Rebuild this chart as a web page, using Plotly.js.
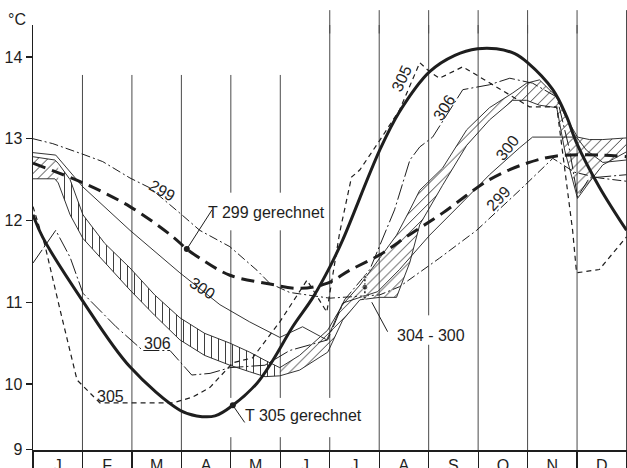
<!DOCTYPE html>
<html>
<head>
<meta charset="utf-8">
<script src="https://cdn.plot.ly/plotly-3.0.1.min.js"></script>
<style>
  html, body { margin: 0; padding: 0; background: #fff; }
  #chart { width: 627px; height: 468px; }
</style>
</head>
<body>
<div id="chart"></div>
<script>
// Monthly course of water temperature (°C) – measured stations and computed curves

const months = ['J', 'F', 'M', 'A', 'M', 'J', 'J', 'A', 'S', 'O', 'N', 'D'];
const monthCenters = [0.5, 1.5, 2.5, 3.5, 4.5, 5.5, 6.5, 7.5, 8.5, 9.5, 10.5, 11.5];
const monthBounds = [0, 1, 2, 3, 4, 5, 6, 7, 8, 9, 10, 11, 12];
const yTickVals = [9.2, 10, 11, 12, 13, 14];
const yTickText = ['9', '10', '11', '12', '13', '14'];

// computed curve T 305
const t305X = [0, 0.20, 0.99, 1.96, 2.97, 3.31, 3.68, 4.04, 4.53, 4.85, 5.25, 5.66, 6.0, 6.26, 7.01, 7.41, 8.02, 8.53, 8.99, 9.37, 9.74, 10.0, 10.51, 10.79, 10.99, 11.45, 12.0];
const t305Y = [12.07, 11.79, 11.03, 10.21, 9.68, 9.61, 9.61, 9.74, 10.01, 10.29, 10.70, 11.06, 11.43, 11.76, 12.86, 13.33, 13.82, 14.02, 14.10, 14.10, 14.04, 13.93, 13.60, 13.27, 12.95, 12.41, 11.88];

// computed curve T 299
const t299X = [0, 1.01, 1.96, 2.83, 3.11, 3.37, 3.98, 4.73, 5.39, 5.94, 6.40, 7.01, 7.62, 8.28, 9.23, 9.98, 10.59, 11.45, 12.0];
const t299Y = [12.70, 12.46, 12.17, 11.80, 11.65, 11.54, 11.33, 11.23, 11.17, 11.23, 11.39, 11.58, 11.83, 12.09, 12.50, 12.70, 12.79, 12.80, 12.78];

// measured station 299
const m299X = [0, 0.40, 1.01, 1.41, 1.96, 2.36, 2.97, 3.37, 3.98, 4.53, 4.79, 5.19, 6.0, 7.01, 7.41, 8.22, 8.97, 9.84, 10.51, 10.95, 11.45, 12.0];
const m299Y = [13.00, 12.94, 12.81, 12.72, 12.52, 12.40, 12.09, 11.88, 11.68, 11.39, 11.23, 11.12, 11.05, 11.09, 11.19, 11.54, 11.88, 12.37, 12.76, 12.59, 12.52, 12.48];

// measured station 300
const m300X = [0, 0.46, 1.01, 1.96, 2.97, 3.78, 4.38, 4.99, 5.45, 5.94, 6.26, 6.97, 7.41, 8.02, 8.63, 9.23, 9.84, 10.10, 10.99, 11.19, 11.52, 12.0];
const m300Y = [12.83, 12.80, 12.41, 11.88, 11.36, 10.97, 10.76, 10.57, 10.70, 10.54, 10.99, 11.13, 11.40, 11.82, 12.19, 12.56, 12.89, 13.02, 13.02, 12.86, 12.71, 12.74];

// measured station 305
const m305X = [0, 0.24, 0.55, 0.89, 1.35, 2.83, 3.23, 3.58, 4.04, 4.44, 4.99, 5.54, 5.94, 6.20, 6.44, 6.61, 7.01, 7.41, 7.82, 8.02, 8.22, 8.69, 10.04, 10.59, 10.91, 10.99, 11.45, 12.0];
const m305Y = [12.17, 11.70, 10.90, 10.05, 9.77, 9.77, 9.84, 9.96, 10.26, 10.32, 10.76, 11.27, 10.88, 11.85, 12.53, 12.62, 12.98, 13.35, 13.93, 13.82, 13.74, 13.88, 13.39, 13.39, 11.88, 11.36, 11.40, 11.80];

// measured station 306
const m306X = [0, 0.46, 0.75, 1.01, 1.68, 2.22, 2.77, 3.21, 3.58, 3.98, 4.69, 5.19, 5.96, 6.30, 6.81, 7.31, 7.62, 7.82, 8.08, 8.69, 9.23, 9.64, 10.10, 10.59, 10.85, 11.01, 11.25, 12.0];
const m306Y = [11.48, 11.88, 11.55, 11.11, 10.70, 10.41, 10.41, 10.11, 10.13, 10.20, 10.23, 10.41, 10.54, 11.03, 11.40, 12.13, 12.74, 12.90, 13.02, 13.60, 13.66, 13.74, 13.68, 13.51, 12.86, 12.29, 12.52, 12.56];

// range of the remaining stations (hatched band)
const bandX = [0, 0.44, 0.51, 0.75, 1.01, 1.45, 1.96, 2.46, 2.97, 3.47, 3.98, 4.38, 4.69, 4.99, 5.39, 5.96, 6.26, 6.61, 7.01, 7.35, 7.62, 7.82, 8.28, 8.77, 9.23, 9.70, 9.98, 10.24, 10.59, 10.75, 11.01, 11.25, 11.52, 11.76, 12.0];
const bandUpper = [12.78, 12.74, 12.70, 12.50, 12.07, 11.72, 11.42, 11.09, 10.81, 10.62, 10.50, 10.39, 10.29, 10.20, 10.35, 10.66, 10.97, 11.21, 11.54, 11.82, 12.13, 12.37, 12.64, 13.11, 13.38, 13.56, 13.68, 13.72, 13.51, 13.29, 13.02, 12.99, 12.99, 13.00, 13.01];
const bandLower = [12.51, 12.51, 12.46, 12.07, 11.78, 11.49, 11.15, 10.84, 10.54, 10.35, 10.23, 10.15, 10.09, 10.10, 10.17, 10.39, 10.78, 11.03, 11.06, 11.06, 11.49, 11.95, 12.43, 12.92, 13.23, 13.47, 13.47, 13.41, 13.38, 12.86, 12.27, 12.47, 12.68, 12.76, 12.84];

// difference 304 - 300 in July
const diff304X = 6.71;
const diff304Lo = 11.06;
const diff304Hi = 11.31;

// marked points on the computed curves
const markT299 = { x: 3.11, y: 11.65 };
const markT305 = { x: 4.04, y: 9.74 };

const INK = '#1e1e1e';
const FONT = 'Liberation Sans, Arial, sans-serif';
const yRange = [9.193, 14.391];

// hatched band pieces: [start index, end index, hatch direction]
const bandPieces = [[0, 2, '/'], [2, 13, '|'], [13, bandX.length - 1, '/']];

const traces = [];

bandPieces.forEach(([a, b, dir]) => {
  const xs = bandX.slice(a, b + 1);
  const up = bandUpper.slice(a, b + 1);
  const lo = bandLower.slice(a, b + 1);
  traces.push({
    x: xs.concat(xs.slice().reverse()),
    y: up.concat(lo.slice().reverse()),
    mode: 'lines', fill: 'toself',
    fillcolor: 'rgba(255,255,255,0)',
    fillpattern: { shape: dir, size: 7, solidity: 0.13, fgcolor: '#2a2a2a', bgcolor: 'rgba(255,255,255,0)' },
    line: { width: 0 },
    hoverinfo: 'skip', showlegend: false
  });
});

function line(x, y, width, dash, shape) {
  return {
    x: x, y: y, mode: 'lines',
    line: { color: INK, width: width, dash: dash || 'solid', shape: shape || 'linear', smoothing: 1 },
    hoverinfo: 'skip', showlegend: false
  };
}

traces.push(line(bandX, bandUpper, 0.9));
traces.push(line(bandX, bandLower, 0.9));
traces.push(line(m306X, m306Y, 1, '16px,3px,2px,3px'));
traces.push(line(m305X, m305Y, 1.2, '5px,4px'));
traces.push(line(m300X, m300Y, 0.9));
traces.push(line(m299X, m299Y, 1, '9px,3px,2px,3px'));
traces.push(line(t299X, t299Y, 3, '13px,7px', 'spline'));
traces.push(line(t305X, t305Y, 3, 'solid', 'spline'));

traces.push({
  x: [markT299.x, markT305.x], y: [markT299.y, markT305.y],
  mode: 'markers', marker: { color: INK, size: 6 },
  hoverinfo: 'skip', showlegend: false
});

traces.push({
  x: [diff304X, diff304X, diff304X],
  y: [diff304Lo, (diff304Lo + diff304Hi) / 2, diff304Hi],
  mode: 'lines+markers',
  line: { color: INK, width: 1.5, dash: '2px,2px' },
  marker: { color: INK, size: [5, 6, 5], symbol: ['triangle-down', 'circle', 'triangle-up'] },
  hoverinfo: 'skip', showlegend: false
});

// vertical month lines, with breaks where labels sit
const shortTop = 13.78;
const gridBreaks = {
  4: [[11.88, 12.34], [9.35, 9.83]],
  5: [[11.88, 12.34], [9.35, 9.83]],
  6: [[9.35, 9.83]],
  8: [[10.48, 10.84]]
};
const shapes = [];
monthBounds.slice(1).forEach(b => {
  const top = b <= 5 ? shortTop : yRange[1];
  let segs = [[yRange[0], top]];
  (gridBreaks[b] || []).forEach(([g0, g1]) => {
    const out = [];
    segs.forEach(([s0, s1]) => {
      if (g1 <= s0 || g0 >= s1) { out.push([s0, s1]); return; }
      if (g0 > s0) out.push([s0, g0]);
      if (g1 < s1) out.push([g1, s1]);
    });
    segs = out;
  });
  segs.forEach(([s0, s1]) => shapes.push({
    type: 'line', layer: 'below', xref: 'x', yref: 'y',
    x0: b, x1: b, y0: s0, y1: s1, line: { color: '#4a4a4a', width: 1 }
  }));
  if (b > 5) {
    shapes.push({
      type: 'line', layer: 'below', xref: 'x', yref: 'paper',
      x0: b, x1: b, y0: 0.98, y1: 1.035, line: { color: '#4a4a4a', width: 1 }
    });
  }
});

// leader lines from labels to their marks
const leader = (x0, y0, x1, y1) => ({
  type: 'line', xref: 'x', yref: 'y', x0, y0, x1, y1, line: { color: INK, width: 1 }
});
shapes.push(leader(markT299.x, markT299.y, 3.62, 12.13));
shapes.push(leader(markT305.x, markT305.y, 4.28, 9.53));
shapes.push(leader(6.85, 11.00, 7.17, 10.64));

const ann = (text, x, y, angle, size) => ({
  text: text, x: x, y: y, xref: 'x', yref: 'y', showarrow: false,
  xanchor: 'center', yanchor: 'middle',
  textangle: angle || 0, font: { family: FONT, size: size || 16, color: INK }
});

const annotations = [
  { text: '°C', x: -0.027, y: 1.012, xref: 'paper', yref: 'paper', showarrow: false,
    xanchor: 'center', yanchor: 'middle',
    font: { family: FONT, size: 16, color: INK } },
  ann('299', 2.61, 12.37, 30),
  ann('T 299 gerechnet', 4.73, 12.10),
  ann('300', 3.43, 11.17, 33),
  ann('306', 2.51, 10.50),
  ann('305', 1.56, 9.85),
  ann('T 305 gerechnet', 5.47, 9.61),
  ann('304 - 300', 8.05, 10.59),
  ann('305', 7.45, 13.74, -65),
  ann('306', 8.32, 13.38, -58),
  ann('300', 9.60, 12.89, -52),
  ann('299', 9.41, 12.27, -47)
];

const layout = {
  width: 627, height: 468,
  margin: { l: 33, r: 0, t: 25, b: 18 },
  paper_bgcolor: '#fff', plot_bgcolor: '#fff',
  font: { family: FONT, color: INK },
  showlegend: false,
  xaxis: {
    range: [0, 12.01], showgrid: false, zeroline: false,
    showline: true, linecolor: INK, linewidth: 1.5,
    tickmode: 'array', tickvals: monthCenters, ticktext: months, ticks: '',
    tickfont: { family: FONT, size: 16, color: INK },
    minor: { tickmode: 'array', tickvals: monthBounds, ticks: 'outside', ticklen: 22, tickwidth: 1.2, tickcolor: INK, showgrid: false },
    fixedrange: true
  },
  yaxis: {
    range: yRange, showgrid: false, zeroline: false,
    showline: true, linecolor: INK, linewidth: 1.5,
    tickmode: 'array', tickvals: yTickVals, ticktext: yTickText,
    ticks: 'outside', ticklen: 6, tickwidth: 1.2, tickcolor: INK,
    tickfont: { family: FONT, size: 16, color: INK },
    fixedrange: true
  },
  shapes: shapes,
  annotations: annotations
};

Plotly.newPlot('chart', traces, layout, { staticPlot: true, displayModeBar: false });
</script>
</body>
</html>
